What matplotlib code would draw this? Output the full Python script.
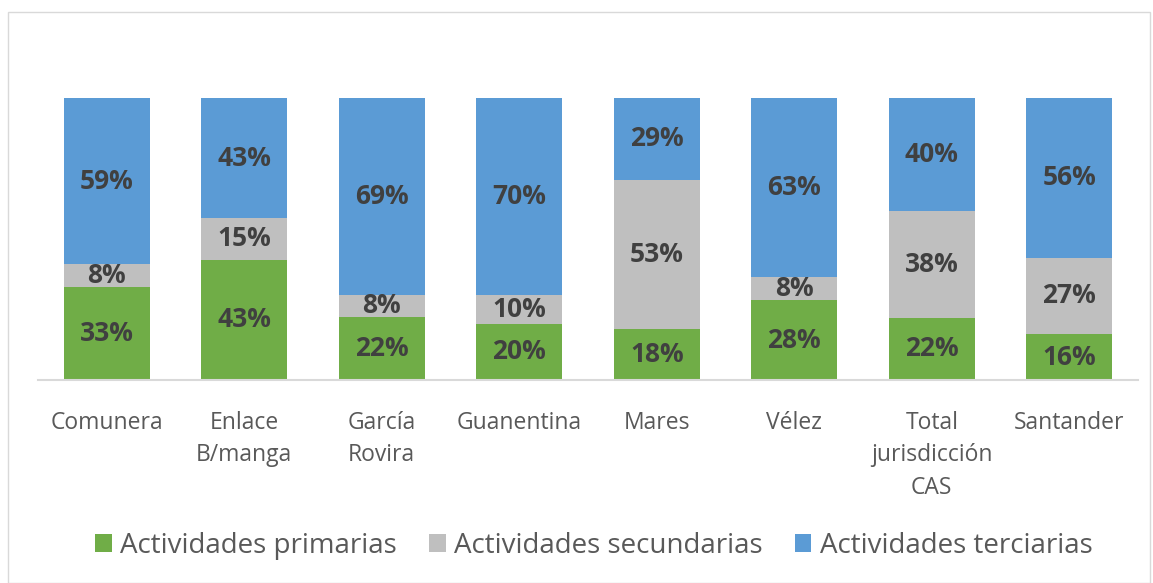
import numpy as np
import matplotlib.pyplot as plt
from matplotlib.patches import Rectangle

categories = ["Comunera", "Enlace\nB/manga", "García\nRovira", "Guanentina",
              "Mares", "Vélez", "Total\njurisdicción\nCAS", "Santander"]
primarias = [33, 43, 22, 20, 18, 28, 22, 16]
secundarias = [8, 15, 8, 10, 53, 8, 38, 27]
terciarias = [59, 43, 69, 70, 29, 63, 40, 56]

series = [("Actividades primarias", primarias, "#70AD47"),
          ("Actividades secundarias", secundarias, "#BFBFBF"),
          ("Actividades terciarias", terciarias, "#5B9BD5")]

plt.rcParams['font.family'] = ['Open Sans', 'DejaVu Sans']

fig = plt.figure(figsize=(11.53, 5.83), dpi=100)
fig.patches.append(Rectangle((8 / 1153, 0), 1142 / 1153, 571 / 583,
                             transform=fig.transFigure, fill=False,
                             edgecolor="#D9D9D9", linewidth=1))
ax = fig.add_axes([38 / 1153, 203 / 583, 1100 / 1153, 282 / 583])

x = np.arange(len(categories))
totals = np.array(primarias) + np.array(secundarias) + np.array(terciarias)
bottom = np.zeros(len(categories))
for name, vals, color in series:
    frac = np.array(vals) / totals
    ax.bar(x, frac, 0.625, bottom=bottom, color=color, label=name)
    for xi, b, f, v in zip(x, bottom, frac, vals):
        ax.text(xi, b + f / 2, f"{v}%", ha="center", va="center",
                fontsize=19, fontweight="bold", color="#404040")
    bottom += frac

ax.set_xlim(-0.5, len(categories) - 0.5)
ax.set_ylim(0, 1)
ax.set_yticks([])
ax.set_xticks(x)
ax.set_xticklabels(categories, fontsize=16.5, color="#595959", linespacing=1.48, va="top")
ax.tick_params(axis="x", length=0, pad=22)
for s in ["top", "right", "left"]:
    ax.spines[s].set_visible(False)
ax.spines["bottom"].set_color("#D9D9D9")
ax.spines["bottom"].set_linewidth(1.5)

fig.legend(loc="center", bbox_to_anchor=(594 / 1153, 37 / 583), ncol=3, frameon=False,
           fontsize=20, labelcolor="#595959", handlelength=0.6, handleheight=0.6,
           handletextpad=0.3, columnspacing=1.15)

fig.savefig("out.png", dpi=100)
